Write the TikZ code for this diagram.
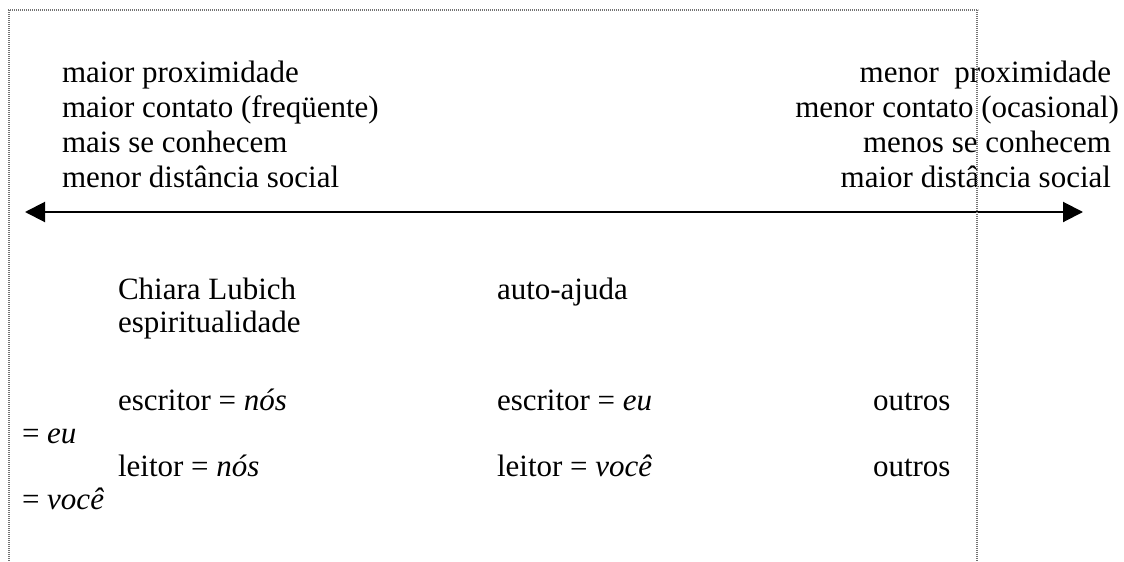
\documentclass[tikz,border=0pt]{standalone}
\usepackage{fontspec}
\setmainfont{Liberation Serif}
\usetikzlibrary{arrows.meta}
\tikzset{
  txt/.style={inner sep=0pt, outer sep=0pt, anchor=base west, font=\fontsize{15.5}{18}\selectfont},
  rtxt/.style={txt, anchor=base east},
  frameline/.style={draw=black!55, line width=0.6pt, dash pattern=on 0.6pt off 0.4pt},
  scale arrow/.style={line width=1pt, {Triangle[length=10pt,width=10pt]}-{Triangle[length=10pt,width=10pt]}}
}
\begin{document}
\begin{tikzpicture}[x=0.5pt,y=-0.5pt]
\useasboundingbox (0,0) rectangle (1124,562);

% left end of the scale
\node[txt] (l1) at (62,82)  {maior proximidade};
\node[txt] (l2) at (62,117) {maior contato (freqüente)};
\node[txt] (l3) at (62,152) {mais se conhecem};
\node[txt] (l4) at (62,187) {menor distância social};

% right end of the scale
\node[rtxt] (r1) at (1111,82)  {menor\ \ proximidade};
\node[rtxt] (r2) at (1119,117) {menor contato (ocasional)};
\node[rtxt] (r3) at (1111,152) {menos se conhecem};
\node[rtxt] (r4) at (1111,187) {maior distância social};

% the scale itself
\coordinate (aL) at (25,212);
\coordinate (aR) at (1083,212);
\draw[scale arrow] (aL) -- (aR);

% examples along the scale
\node[txt] (c1) at (118,299) {Chiara Lubich};
\node[txt] (c2) at (118,332) {espiritualidade};
\node[txt] (m1) at (497,299) {auto-ajuda};

\node[txt] (e1) at (118,410) {escritor = \textit{nós}};
\node[txt] (e2) at (497,410) {escritor = \textit{eu}};
\node[txt] (e3) at (873,410) {outros};
\node[txt] (e4) at (22,443)  {= \textit{eu}};

\node[txt] (f1) at (118,476) {leitor = \textit{nós}};
\node[txt] (f2) at (497,476) {leitor = \textit{você}};
\node[txt] (f3) at (873,476) {outros};
\node[txt] (f4) at (22,509)  {= \textit{você}};

% page frame
\draw[frameline] (8,10) -- (978,10);
\draw[frameline] (9,10) -- (9,562);
\draw[frameline] (977,10) -- (977,562);
\end{tikzpicture}
\end{document}
